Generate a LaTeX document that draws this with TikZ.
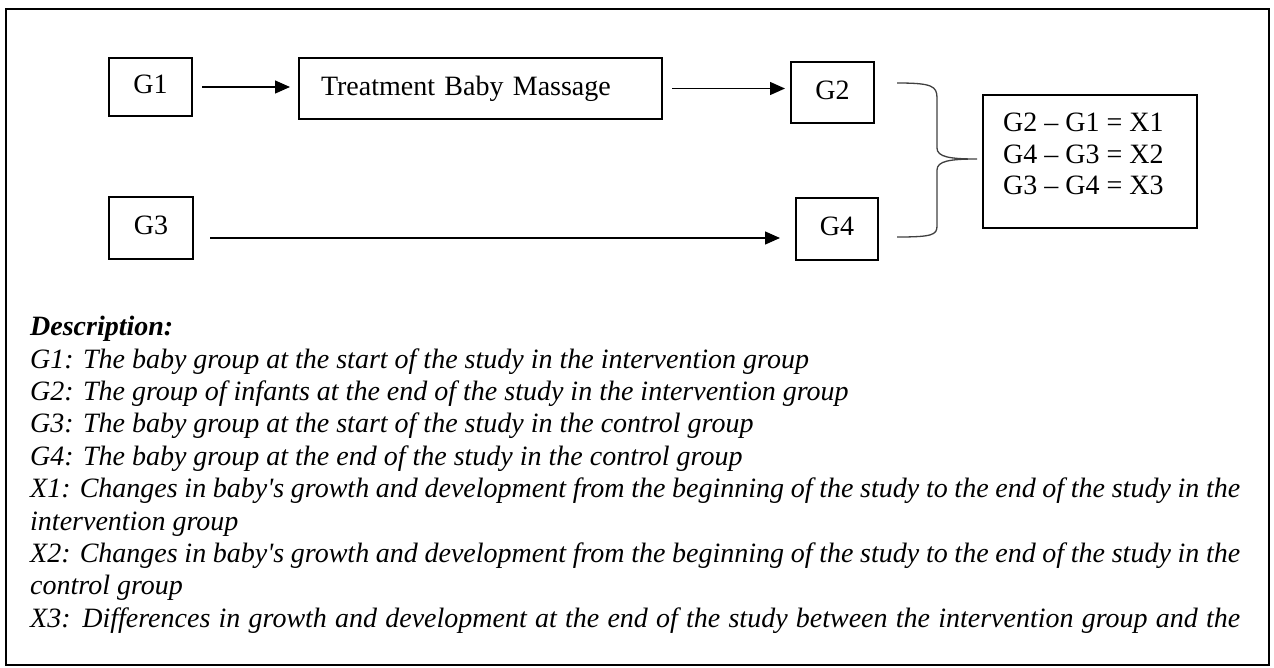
\documentclass[tikz,border=0pt]{standalone}
\usepackage{fontspec}
\setmainfont{Liberation Serif}
\usetikzlibrary{arrows.meta,calc}
\begin{document}
\begin{tikzpicture}[x=1pt,y=-1pt,
  box/.style={draw, line width=2pt, inner sep=0pt, anchor=north west, text depth=5pt, font=\fontsize{28}{32}\selectfont},
  arr/.style={line width=1.3pt, -{Triangle[length=15pt,width=13pt]}},
  bracestyle/.style={line width=1.3pt, draw=black!75},
  framestyle/.style={line width=2pt}]
\useasboundingbox (0,0) rectangle (1274,667);
\draw[framestyle] (6,9) rectangle (1269,665);
% boxes
\node[box, minimum width=83pt, minimum height=58pt] (g1) at (108,57) {G1};
\node[box, minimum width=363pt, minimum height=61pt, text width=319pt, align=left] (treat) at (298,57) {Treatment Baby Massage};
\node[box, minimum width=83pt, minimum height=61pt] (g2) at (790,61) {G2};
\node[box, minimum width=84pt, minimum height=62pt] (g3) at (108,196) {G3};
\node[box, minimum width=82pt, minimum height=62pt] (g4) at (795,197) {G4};
\node[box, minimum width=214pt, minimum height=133pt] (res) at (982,94) {};
\node[anchor=north west, inner sep=0pt, align=left, font=\fontsize{28}{31.5}\selectfont] (restext) at (1003,113) {G2 – G1 = X1\\G4 – G3 = X2\\G3 – G4 = X3};
% arrows
\draw[arr, shorten <=9pt, shorten >=8pt] (g1.east) -- (g1.east -| treat.west);
\draw[arr, shorten <=9pt, shorten >=5pt] (treat.east) -- (treat.east -| g2.west);
\draw[arr, shorten <=16pt, shorten >=15pt] ([yshift=-10pt]g3.east) -- ([yshift=-10pt]g3.east -| g4.west);
% brace
\coordinate (bt) at (897,83);
\coordinate (bb) at (897,237);
\coordinate (btip) at (977,159);
\draw[bracestyle] (bt) .. controls (932,83) and (937,86) .. (937,98) -- (937,148)
  .. controls (937,157) and (950,159) .. (btip)
  .. controls (950,159) and (937,161) .. (937,170) -- (937,226)
  .. controls (937,235) and (932,237) .. (bb);
% description
\node[anchor=north west, inner sep=0pt, align=left, font=\fontsize{28}{32.4}\selectfont\itshape] (desc) at (30,316) {%
\textbf{Description:}\\
G1: The baby group at the start of the study in the intervention group\\
G2: The group of infants at the end of the study in the intervention group\\
G3: The baby group at the start of the study in the control group\\
G4: The baby group at the end of the study in the control group\\
\hbox to 1210pt{X1: Changes in baby\textquotesingle s growth and development from the beginning of the study to the end of the study in the}\\
intervention group\\
\hbox to 1210pt{X2: Changes in baby\textquotesingle s growth and development from the beginning of the study to the end of the study in the}\\
control group\\
\hbox to 1210pt{X3: Differences in growth and development at the end of the study between the intervention group and the}};
\end{tikzpicture}
\end{document}
